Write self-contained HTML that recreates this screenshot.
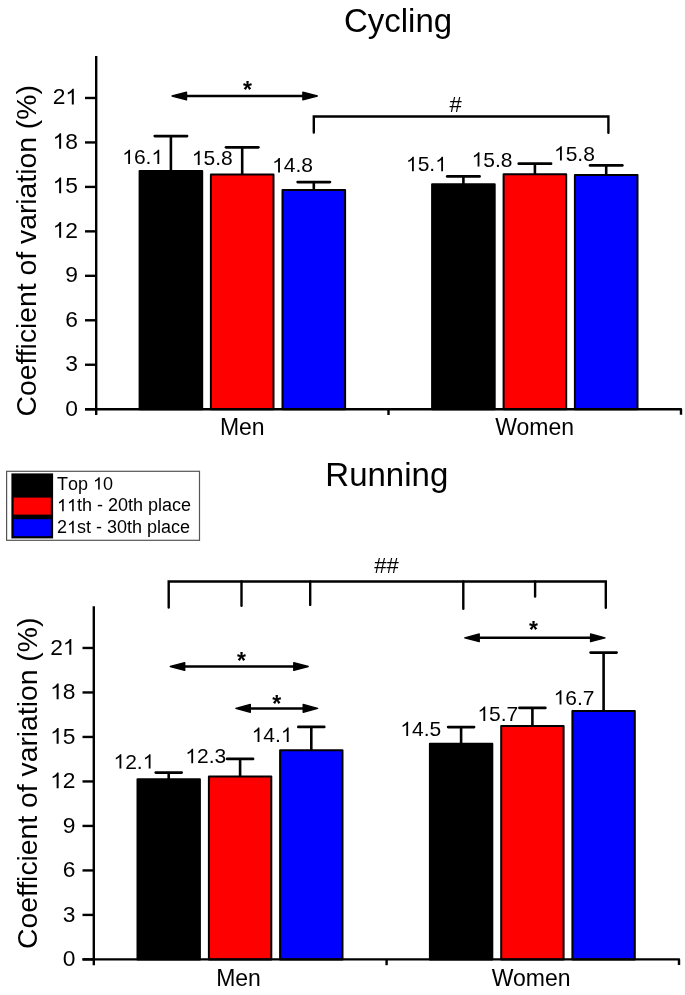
<!DOCTYPE html><html><head><meta charset="utf-8"><style>html,body{margin:0;padding:0;background:#fff;}svg{display:block;will-change:transform;}text{font-family:"Liberation Sans", sans-serif;fill:#000;}</style></head><body>
<svg width="685" height="995" viewBox="0 0 685 995">
<rect width="685" height="995" fill="#fff"/>
<line x1="170.90" y1="136.10" x2="170.90" y2="170.90" stroke="#000" stroke-width="2.6" stroke-linecap="butt"/>
<line x1="154.75" y1="136.10" x2="187.05" y2="136.10" stroke="#000" stroke-width="2.7" stroke-linecap="round"/>
<rect x="139.60" y="170.90" width="62.60" height="238.30" fill="#000" stroke="#000" stroke-width="2" stroke-linejoin="round"/>
<line x1="242.20" y1="147.35" x2="242.20" y2="174.50" stroke="#000" stroke-width="2.6" stroke-linecap="butt"/>
<line x1="226.05" y1="147.35" x2="258.35" y2="147.35" stroke="#000" stroke-width="2.7" stroke-linecap="round"/>
<rect x="210.90" y="174.50" width="62.60" height="234.70" fill="#f00" stroke="#000" stroke-width="2" stroke-linejoin="round"/>
<line x1="313.80" y1="182.10" x2="313.80" y2="189.90" stroke="#000" stroke-width="2.6" stroke-linecap="butt"/>
<line x1="297.65" y1="182.10" x2="329.95" y2="182.10" stroke="#000" stroke-width="2.7" stroke-linecap="round"/>
<rect x="282.50" y="189.90" width="62.60" height="219.30" fill="#00f" stroke="#000" stroke-width="2" stroke-linejoin="round"/>
<line x1="463.40" y1="176.40" x2="463.40" y2="184.30" stroke="#000" stroke-width="2.6" stroke-linecap="butt"/>
<line x1="447.25" y1="176.40" x2="479.55" y2="176.40" stroke="#000" stroke-width="2.7" stroke-linecap="round"/>
<rect x="432.10" y="184.30" width="62.60" height="224.90" fill="#000" stroke="#000" stroke-width="2" stroke-linejoin="round"/>
<line x1="534.90" y1="163.65" x2="534.90" y2="174.30" stroke="#000" stroke-width="2.6" stroke-linecap="butt"/>
<line x1="518.75" y1="163.65" x2="551.05" y2="163.65" stroke="#000" stroke-width="2.7" stroke-linecap="round"/>
<rect x="503.60" y="174.30" width="62.60" height="234.90" fill="#f00" stroke="#000" stroke-width="2" stroke-linejoin="round"/>
<line x1="606.20" y1="165.40" x2="606.20" y2="175.00" stroke="#000" stroke-width="2.6" stroke-linecap="butt"/>
<line x1="590.05" y1="165.40" x2="622.35" y2="165.40" stroke="#000" stroke-width="2.7" stroke-linecap="round"/>
<rect x="574.90" y="175.00" width="62.60" height="234.20" fill="#00f" stroke="#000" stroke-width="2" stroke-linejoin="round"/>
<line x1="96.20" y1="56.00" x2="96.20" y2="415.00" stroke="#000" stroke-width="2.4" stroke-linecap="butt"/>
<line x1="388.50" y1="409.20" x2="388.50" y2="415.00" stroke="#000" stroke-width="2.4" stroke-linecap="butt"/>
<polyline points="85.00,409.20 681.00,409.20 681.00,414.80" fill="none" stroke="#000" stroke-width="2.4" stroke-linejoin="round" stroke-linecap="butt"/>
<line x1="85.00" y1="409.20" x2="96.20" y2="409.20" stroke="#000" stroke-width="2.4" stroke-linecap="butt"/>
<text x="65.32" y="415.60" font-size="22.8">0</text>
<line x1="85.00" y1="364.74" x2="96.20" y2="364.74" stroke="#000" stroke-width="2.4" stroke-linecap="butt"/>
<text x="65.32" y="371.14" font-size="22.8">3</text>
<line x1="85.00" y1="320.28" x2="96.20" y2="320.28" stroke="#000" stroke-width="2.4" stroke-linecap="butt"/>
<text x="65.32" y="326.68" font-size="22.8">6</text>
<line x1="85.00" y1="275.82" x2="96.20" y2="275.82" stroke="#000" stroke-width="2.4" stroke-linecap="butt"/>
<text x="65.32" y="282.22" font-size="22.8">9</text>
<line x1="85.00" y1="231.36" x2="96.20" y2="231.36" stroke="#000" stroke-width="2.4" stroke-linecap="butt"/>
<path d="M763,0 L583,0 L583,1100 C540,1060 483,1020 413,981 C343,942 280,912 223,892 L223,1059 C321,1104 407,1158 481,1220 C555,1282 607,1345 638,1409 L763,1409 Z" transform="translate(52.64,237.76) scale(0.01113,-0.01113)" fill="#000"/>
<text x="65.32" y="237.76" font-size="22.8">2</text>
<line x1="85.00" y1="186.90" x2="96.20" y2="186.90" stroke="#000" stroke-width="2.4" stroke-linecap="butt"/>
<path d="M763,0 L583,0 L583,1100 C540,1060 483,1020 413,981 C343,942 280,912 223,892 L223,1059 C321,1104 407,1158 481,1220 C555,1282 607,1345 638,1409 L763,1409 Z" transform="translate(52.64,193.30) scale(0.01113,-0.01113)" fill="#000"/>
<text x="65.32" y="193.30" font-size="22.8">5</text>
<line x1="85.00" y1="142.44" x2="96.20" y2="142.44" stroke="#000" stroke-width="2.4" stroke-linecap="butt"/>
<path d="M763,0 L583,0 L583,1100 C540,1060 483,1020 413,981 C343,942 280,912 223,892 L223,1059 C321,1104 407,1158 481,1220 C555,1282 607,1345 638,1409 L763,1409 Z" transform="translate(52.64,148.84) scale(0.01113,-0.01113)" fill="#000"/>
<text x="65.32" y="148.84" font-size="22.8">8</text>
<line x1="85.00" y1="97.98" x2="96.20" y2="97.98" stroke="#000" stroke-width="2.4" stroke-linecap="butt"/>
<text x="52.64" y="104.38" font-size="22.8">2</text>
<path d="M763,0 L583,0 L583,1100 C540,1060 483,1020 413,981 C343,942 280,912 223,892 L223,1059 C321,1104 407,1158 481,1220 C555,1282 607,1345 638,1409 L763,1409 Z" transform="translate(65.32,104.38) scale(0.01113,-0.01113)" fill="#000"/>
<line x1="168.70" y1="772.60" x2="168.70" y2="779.20" stroke="#000" stroke-width="2.6" stroke-linecap="butt"/>
<line x1="155.75" y1="772.60" x2="181.65" y2="772.60" stroke="#000" stroke-width="2.7" stroke-linecap="round"/>
<rect x="137.50" y="779.20" width="62.40" height="180.20" fill="#000" stroke="#000" stroke-width="2" stroke-linejoin="round"/>
<line x1="240.10" y1="758.95" x2="240.10" y2="776.60" stroke="#000" stroke-width="2.6" stroke-linecap="butt"/>
<line x1="227.15" y1="758.95" x2="253.05" y2="758.95" stroke="#000" stroke-width="2.7" stroke-linecap="round"/>
<rect x="208.90" y="776.60" width="62.40" height="182.80" fill="#f00" stroke="#000" stroke-width="2" stroke-linejoin="round"/>
<line x1="311.30" y1="726.95" x2="311.30" y2="750.30" stroke="#000" stroke-width="2.6" stroke-linecap="butt"/>
<line x1="298.35" y1="726.95" x2="324.25" y2="726.95" stroke="#000" stroke-width="2.7" stroke-linecap="round"/>
<rect x="280.10" y="750.30" width="62.40" height="209.10" fill="#00f" stroke="#000" stroke-width="2" stroke-linejoin="round"/>
<line x1="461.10" y1="727.10" x2="461.10" y2="743.80" stroke="#000" stroke-width="2.6" stroke-linecap="butt"/>
<line x1="448.15" y1="727.10" x2="474.05" y2="727.10" stroke="#000" stroke-width="2.7" stroke-linecap="round"/>
<rect x="429.90" y="743.80" width="62.40" height="215.60" fill="#000" stroke="#000" stroke-width="2" stroke-linejoin="round"/>
<line x1="532.40" y1="707.95" x2="532.40" y2="725.90" stroke="#000" stroke-width="2.6" stroke-linecap="butt"/>
<line x1="519.45" y1="707.95" x2="545.35" y2="707.95" stroke="#000" stroke-width="2.7" stroke-linecap="round"/>
<rect x="501.20" y="725.90" width="62.40" height="233.50" fill="#f00" stroke="#000" stroke-width="2" stroke-linejoin="round"/>
<line x1="603.60" y1="652.60" x2="603.60" y2="710.90" stroke="#000" stroke-width="2.6" stroke-linecap="butt"/>
<line x1="590.65" y1="652.60" x2="616.55" y2="652.60" stroke="#000" stroke-width="2.7" stroke-linecap="round"/>
<rect x="572.40" y="710.90" width="62.40" height="248.50" fill="#00f" stroke="#000" stroke-width="2" stroke-linejoin="round"/>
<line x1="93.80" y1="606.20" x2="93.80" y2="965.20" stroke="#000" stroke-width="2.4" stroke-linecap="butt"/>
<line x1="386.60" y1="959.40" x2="386.60" y2="965.20" stroke="#000" stroke-width="2.4" stroke-linecap="butt"/>
<polyline points="82.50,959.40 679.00,959.40 679.00,965.00" fill="none" stroke="#000" stroke-width="2.4" stroke-linejoin="round" stroke-linecap="butt"/>
<line x1="82.50" y1="959.40" x2="93.80" y2="959.40" stroke="#000" stroke-width="2.4" stroke-linecap="butt"/>
<text x="62.82" y="966.20" font-size="22.8">0</text>
<line x1="82.50" y1="914.91" x2="93.80" y2="914.91" stroke="#000" stroke-width="2.4" stroke-linecap="butt"/>
<text x="62.82" y="921.71" font-size="22.8">3</text>
<line x1="82.50" y1="870.42" x2="93.80" y2="870.42" stroke="#000" stroke-width="2.4" stroke-linecap="butt"/>
<text x="62.82" y="877.22" font-size="22.8">6</text>
<line x1="82.50" y1="825.93" x2="93.80" y2="825.93" stroke="#000" stroke-width="2.4" stroke-linecap="butt"/>
<text x="62.82" y="832.73" font-size="22.8">9</text>
<line x1="82.50" y1="781.44" x2="93.80" y2="781.44" stroke="#000" stroke-width="2.4" stroke-linecap="butt"/>
<path d="M763,0 L583,0 L583,1100 C540,1060 483,1020 413,981 C343,942 280,912 223,892 L223,1059 C321,1104 407,1158 481,1220 C555,1282 607,1345 638,1409 L763,1409 Z" transform="translate(50.14,788.24) scale(0.01113,-0.01113)" fill="#000"/>
<text x="62.82" y="788.24" font-size="22.8">2</text>
<line x1="82.50" y1="736.95" x2="93.80" y2="736.95" stroke="#000" stroke-width="2.4" stroke-linecap="butt"/>
<path d="M763,0 L583,0 L583,1100 C540,1060 483,1020 413,981 C343,942 280,912 223,892 L223,1059 C321,1104 407,1158 481,1220 C555,1282 607,1345 638,1409 L763,1409 Z" transform="translate(50.14,743.75) scale(0.01113,-0.01113)" fill="#000"/>
<text x="62.82" y="743.75" font-size="22.8">5</text>
<line x1="82.50" y1="692.46" x2="93.80" y2="692.46" stroke="#000" stroke-width="2.4" stroke-linecap="butt"/>
<path d="M763,0 L583,0 L583,1100 C540,1060 483,1020 413,981 C343,942 280,912 223,892 L223,1059 C321,1104 407,1158 481,1220 C555,1282 607,1345 638,1409 L763,1409 Z" transform="translate(50.14,699.26) scale(0.01113,-0.01113)" fill="#000"/>
<text x="62.82" y="699.26" font-size="22.8">8</text>
<line x1="82.50" y1="647.97" x2="93.80" y2="647.97" stroke="#000" stroke-width="2.4" stroke-linecap="butt"/>
<text x="50.14" y="654.77" font-size="22.8">2</text>
<path d="M763,0 L583,0 L583,1100 C540,1060 483,1020 413,981 C343,942 280,912 223,892 L223,1059 C321,1104 407,1158 481,1220 C555,1282 607,1345 638,1409 L763,1409 Z" transform="translate(62.82,654.77) scale(0.01113,-0.01113)" fill="#000"/>
<text x="398.00" y="31.70" font-size="33" text-anchor="middle" >Cycling</text>
<text x="386.80" y="486.20" font-size="33" text-anchor="middle" >Running</text>
<text transform="translate(36.4,250.85) rotate(-90)" font-size="28.3" text-anchor="middle">Coefficient of variation (%)</text>
<text transform="translate(37.2,783.35) rotate(-90)" font-size="28.3" text-anchor="middle">Coefficient of variation (%)</text>
<text x="242.30" y="435.00" font-size="23" text-anchor="middle" >Men</text>
<text x="534.60" y="435.00" font-size="23" text-anchor="middle" >Women</text>
<text x="238.50" y="986.00" font-size="23" text-anchor="middle" >Men</text>
<text x="531.20" y="986.00" font-size="23" text-anchor="middle" >Women</text>
<path d="M763,0 L583,0 L583,1100 C540,1060 483,1020 413,981 C343,942 280,912 223,892 L223,1059 C321,1104 407,1158 481,1220 C555,1282 607,1345 638,1409 L763,1409 Z" transform="translate(122.21,164.10) scale(0.01025,-0.01025)" fill="#000"/>
<text x="133.89 145.57" y="164.10" font-size="21">6.</text>
<path d="M763,0 L583,0 L583,1100 C540,1060 483,1020 413,981 C343,942 280,912 223,892 L223,1059 C321,1104 407,1158 481,1220 C555,1282 607,1345 638,1409 L763,1409 Z" transform="translate(151.41,164.10) scale(0.01025,-0.01025)" fill="#000"/>
<path d="M763,0 L583,0 L583,1100 C540,1060 483,1020 413,981 C343,942 280,912 223,892 L223,1059 C321,1104 407,1158 481,1220 C555,1282 607,1345 638,1409 L763,1409 Z" transform="translate(191.81,165.10) scale(0.01025,-0.01025)" fill="#000"/>
<text x="203.49 215.17 221.01" y="165.10" font-size="21">5.8</text>
<path d="M763,0 L583,0 L583,1100 C540,1060 483,1020 413,981 C343,942 280,912 223,892 L223,1059 C321,1104 407,1158 481,1220 C555,1282 607,1345 638,1409 L763,1409 Z" transform="translate(272.11,172.40) scale(0.01025,-0.01025)" fill="#000"/>
<text x="283.79 295.47 301.31" y="172.40" font-size="21">4.8</text>
<path d="M763,0 L583,0 L583,1100 C540,1060 483,1020 413,981 C343,942 280,912 223,892 L223,1059 C321,1104 407,1158 481,1220 C555,1282 607,1345 638,1409 L763,1409 Z" transform="translate(406.01,171.20) scale(0.01025,-0.01025)" fill="#000"/>
<text x="417.69 429.37" y="171.20" font-size="21">5.</text>
<path d="M763,0 L583,0 L583,1100 C540,1060 483,1020 413,981 C343,942 280,912 223,892 L223,1059 C321,1104 407,1158 481,1220 C555,1282 607,1345 638,1409 L763,1409 Z" transform="translate(435.21,171.20) scale(0.01025,-0.01025)" fill="#000"/>
<path d="M763,0 L583,0 L583,1100 C540,1060 483,1020 413,981 C343,942 280,912 223,892 L223,1059 C321,1104 407,1158 481,1220 C555,1282 607,1345 638,1409 L763,1409 Z" transform="translate(471.61,166.60) scale(0.01025,-0.01025)" fill="#000"/>
<text x="483.29 494.97 500.81" y="166.60" font-size="21">5.8</text>
<path d="M763,0 L583,0 L583,1100 C540,1060 483,1020 413,981 C343,942 280,912 223,892 L223,1059 C321,1104 407,1158 481,1220 C555,1282 607,1345 638,1409 L763,1409 Z" transform="translate(554.01,160.60) scale(0.01025,-0.01025)" fill="#000"/>
<text x="565.69 577.37 583.21" y="160.60" font-size="21">5.8</text>
<path d="M763,0 L583,0 L583,1100 C540,1060 483,1020 413,981 C343,942 280,912 223,892 L223,1059 C321,1104 407,1158 481,1220 C555,1282 607,1345 638,1409 L763,1409 Z" transform="translate(113.51,768.60) scale(0.01025,-0.01025)" fill="#000"/>
<text x="125.19 136.87" y="768.60" font-size="21">2.</text>
<path d="M763,0 L583,0 L583,1100 C540,1060 483,1020 413,981 C343,942 280,912 223,892 L223,1059 C321,1104 407,1158 481,1220 C555,1282 607,1345 638,1409 L763,1409 Z" transform="translate(142.71,768.60) scale(0.01025,-0.01025)" fill="#000"/>
<path d="M763,0 L583,0 L583,1100 C540,1060 483,1020 413,981 C343,942 280,912 223,892 L223,1059 C321,1104 407,1158 481,1220 C555,1282 607,1345 638,1409 L763,1409 Z" transform="translate(185.31,763.20) scale(0.01025,-0.01025)" fill="#000"/>
<text x="196.99 208.67 214.51" y="763.20" font-size="21">2.3</text>
<path d="M763,0 L583,0 L583,1100 C540,1060 483,1020 413,981 C343,942 280,912 223,892 L223,1059 C321,1104 407,1158 481,1220 C555,1282 607,1345 638,1409 L763,1409 Z" transform="translate(251.61,742.00) scale(0.01025,-0.01025)" fill="#000"/>
<text x="263.29 274.97" y="742.00" font-size="21">4.</text>
<path d="M763,0 L583,0 L583,1100 C540,1060 483,1020 413,981 C343,942 280,912 223,892 L223,1059 C321,1104 407,1158 481,1220 C555,1282 607,1345 638,1409 L763,1409 Z" transform="translate(280.81,742.00) scale(0.01025,-0.01025)" fill="#000"/>
<path d="M763,0 L583,0 L583,1100 C540,1060 483,1020 413,981 C343,942 280,912 223,892 L223,1059 C321,1104 407,1158 481,1220 C555,1282 607,1345 638,1409 L763,1409 Z" transform="translate(400.31,736.10) scale(0.01025,-0.01025)" fill="#000"/>
<text x="411.99 423.67 429.51" y="736.10" font-size="21">4.5</text>
<path d="M763,0 L583,0 L583,1100 C540,1060 483,1020 413,981 C343,942 280,912 223,892 L223,1059 C321,1104 407,1158 481,1220 C555,1282 607,1345 638,1409 L763,1409 Z" transform="translate(477.41,721.00) scale(0.01025,-0.01025)" fill="#000"/>
<text x="489.09 500.77 506.61" y="721.00" font-size="21">5.7</text>
<path d="M763,0 L583,0 L583,1100 C540,1060 483,1020 413,981 C343,942 280,912 223,892 L223,1059 C321,1104 407,1158 481,1220 C555,1282 607,1345 638,1409 L763,1409 Z" transform="translate(553.61,704.60) scale(0.01025,-0.01025)" fill="#000"/>
<text x="565.29 576.97 582.81" y="704.60" font-size="21">6.7</text>
<line x1="186.20" y1="96.00" x2="303.20" y2="96.00" stroke="#000" stroke-width="2.5" stroke-linecap="butt"/>
<path d="M172.05,96.00 L186.55,92.10 L186.55,99.90 Z" fill="#000" stroke="#000" stroke-width="1.3" stroke-linejoin="round"/>
<path d="M317.35,96.00 L302.85,92.10 L302.85,99.90 Z" fill="#000" stroke="#000" stroke-width="1.3" stroke-linejoin="round"/>
<text x="247.40" y="98.40" font-size="23" text-anchor="middle" font-weight="bold">*</text>
<polyline points="313.80,132.60 313.80,116.50 608.40,116.50 608.40,132.70" fill="none" stroke="#000" stroke-width="2.4" stroke-linejoin="miter" stroke-linecap="round"/>
<text x="455.60" y="112.00" font-size="22" text-anchor="middle" >#</text>
<polyline points="168.70,607.60 168.70,581.50 605.80,581.50 605.80,607.80" fill="none" stroke="#000" stroke-width="2.4" stroke-linejoin="miter" stroke-linecap="round"/>
<line x1="241.50" y1="581.50" x2="241.50" y2="605.70" stroke="#000" stroke-width="2.4" stroke-linecap="round"/>
<line x1="310.20" y1="581.50" x2="310.20" y2="604.90" stroke="#000" stroke-width="2.4" stroke-linecap="round"/>
<line x1="463.30" y1="581.50" x2="463.30" y2="608.80" stroke="#000" stroke-width="2.4" stroke-linecap="round"/>
<line x1="535.10" y1="581.50" x2="535.10" y2="596.50" stroke="#000" stroke-width="2.4" stroke-linecap="round"/>
<text x="386.40" y="572.70" font-size="22" text-anchor="middle" >##</text>
<line x1="184.40" y1="666.50" x2="294.10" y2="666.50" stroke="#000" stroke-width="2.5" stroke-linecap="butt"/>
<path d="M170.25,666.50 L184.75,662.60 L184.75,670.40 Z" fill="#000" stroke="#000" stroke-width="1.3" stroke-linejoin="round"/>
<path d="M308.25,666.50 L293.75,662.60 L293.75,670.40 Z" fill="#000" stroke="#000" stroke-width="1.3" stroke-linejoin="round"/>
<text x="241.60" y="669.40" font-size="23" text-anchor="middle" font-weight="bold">*</text>
<line x1="250.00" y1="708.40" x2="303.50" y2="708.40" stroke="#000" stroke-width="2.5" stroke-linecap="butt"/>
<path d="M235.85,708.40 L250.35,704.50 L250.35,712.30 Z" fill="#000" stroke="#000" stroke-width="1.3" stroke-linejoin="round"/>
<path d="M317.65,708.40 L303.15,704.50 L303.15,712.30 Z" fill="#000" stroke="#000" stroke-width="1.3" stroke-linejoin="round"/>
<text x="276.80" y="712.20" font-size="23" text-anchor="middle" font-weight="bold">*</text>
<line x1="478.90" y1="637.80" x2="590.90" y2="637.80" stroke="#000" stroke-width="2.5" stroke-linecap="butt"/>
<path d="M464.75,637.80 L479.25,633.90 L479.25,641.70 Z" fill="#000" stroke="#000" stroke-width="1.3" stroke-linejoin="round"/>
<path d="M605.05,637.80 L590.55,633.90 L590.55,641.70 Z" fill="#000" stroke="#000" stroke-width="1.3" stroke-linejoin="round"/>
<text x="533.50" y="637.50" font-size="23" text-anchor="middle" font-weight="bold">*</text>
<rect x="6.6" y="471.3" width="192.9" height="69" fill="#fff" stroke="#555" stroke-width="1.2"/>
<rect x="11.4" y="473.4" width="41.7" height="65" fill="#000"/>
<rect x="13.6" y="497.6" width="37.2" height="17.0" fill="#f00"/>
<rect x="13.6" y="519.2" width="37.2" height="17.0" fill="#00f"/>
<text x="57.00 68.00 78.01" y="489.60" font-size="18">Top</text>
<path d="M763,0 L583,0 L583,1100 C540,1060 483,1020 413,981 C343,942 280,912 223,892 L223,1059 C321,1104 407,1158 481,1220 C555,1282 607,1345 638,1409 L763,1409 Z" transform="translate(93.02,489.60) scale(0.00879,-0.00879)" fill="#000"/>
<text x="103.03" y="489.60" font-size="18">0</text>
<path d="M763,0 L583,0 L583,1100 C540,1060 483,1020 413,981 C343,942 280,912 223,892 L223,1059 C321,1104 407,1158 481,1220 C555,1282 607,1345 638,1409 L763,1409 Z" transform="translate(57.00,511.30) scale(0.00879,-0.00879)" fill="#000"/>
<path d="M763,0 L583,0 L583,1100 C540,1060 483,1020 413,981 C343,942 280,912 223,892 L223,1059 C321,1104 407,1158 481,1220 C555,1282 607,1345 638,1409 L763,1409 Z" transform="translate(67.01,511.30) scale(0.00879,-0.00879)" fill="#000"/>
<text x="77.02 82.02" y="511.30" font-size="18">th</text>
<text x="97.03" y="511.30" font-size="18">-</text>
<text x="108.03 118.04 128.05 133.05" y="511.30" font-size="18">20th</text>
<text x="148.06 158.07 162.07 172.08 181.08" y="511.30" font-size="18">place</text>
<text x="57.00" y="533.20" font-size="18">2</text>
<path d="M763,0 L583,0 L583,1100 C540,1060 483,1020 413,981 C343,942 280,912 223,892 L223,1059 C321,1104 407,1158 481,1220 C555,1282 607,1345 638,1409 L763,1409 Z" transform="translate(67.01,533.20) scale(0.00879,-0.00879)" fill="#000"/>
<text x="77.02 86.02" y="533.20" font-size="18">st</text>
<text x="96.02" y="533.20" font-size="18">-</text>
<text x="107.02 117.03 127.04 132.04" y="533.20" font-size="18">30th</text>
<text x="147.05 157.06 161.06 171.07 180.07" y="533.20" font-size="18">place</text>
</svg></body></html>
